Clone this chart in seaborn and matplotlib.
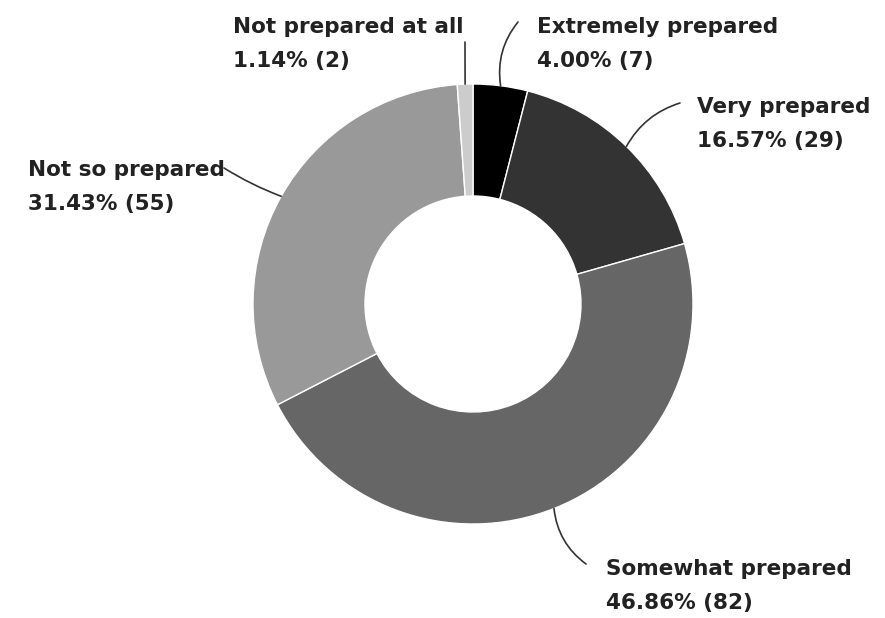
import numpy as np
import matplotlib
matplotlib.use("Agg")
import matplotlib.pyplot as plt
import seaborn as sns

# survey answers, clockwise from 12 o'clock
categories = ["Extremely prepared", "Very prepared", "Somewhat prepared",
              "Not so prepared", "Not prepared at all"]
counts = [7, 29, 82, 55, 2]
percents = [4.00, 16.57, 46.86, 31.43, 1.14]
colors = ["#000000", "#333333", "#666666", "#999999", "#cccccc"]

sns.set_theme(style="white")
plt.rcParams['font.family'] = ['DejaVu Sans']

W, H = 885, 618
fig = plt.figure(figsize=(W / 100, H / 100), dpi=100)
ax = fig.add_axes([0, 0, 1, 1])

cx, cy = 473, H - 304
r_out, r_in = 220, 108

wedges, _ = ax.pie(counts, colors=colors, startangle=90, counterclock=False,
                   center=(cx, cy), radius=r_out, frame=True,
                   wedgeprops=dict(width=r_out - r_in, edgecolor="white", linewidth=1))
ax.set_xlim(0, W)
ax.set_ylim(0, H)
ax.set_aspect("equal")
ax.axis("off")

# label layout: text position (left, line-1 centre), leader end point, arc bend
layout = {
    "Extremely prepared": dict(xy=(537, 27), end=(518, 22), rad=0.22),
    "Very prepared": dict(xy=(697, 107), end=(680, 103), rad=0.2),
    "Somewhat prepared": dict(xy=(606, 569), end=(586, 564), rad=-0.22),
    "Not so prepared": dict(xy=(28, 170), end=(224, 168), rad=0.05),
    "Not prepared at all": dict(xy=(233, 27), end=(465, 42), rad=0.0),
}

for w, name, n, p in zip(wedges, categories, counts, percents):
    ang = np.deg2rad((w.theta1 + w.theta2) / 2)
    anchor = (cx + r_out * np.cos(ang), cy + r_out * np.sin(ang))
    lay = layout[name]
    ex, ey = lay["end"]
    ax.annotate("", xy=anchor, xytext=(ex, H - ey),
                arrowprops=dict(arrowstyle="-", color="#333333", lw=1.2,
                                shrinkA=0, shrinkB=0,
                                connectionstyle=f"arc3,rad={lay['rad']}"))
    tx, ty = lay["xy"]
    ax.text(tx, H - ty, name, ha="left", va="center", fontsize=15.5,
            fontweight="bold", color="#222222")
    ax.text(tx, H - ty - 34, f"{p:.2f}% ({n})", ha="left", va="center",
            fontsize=15.5, fontweight="bold", color="#222222")

fig.savefig("out.png", dpi=100)
